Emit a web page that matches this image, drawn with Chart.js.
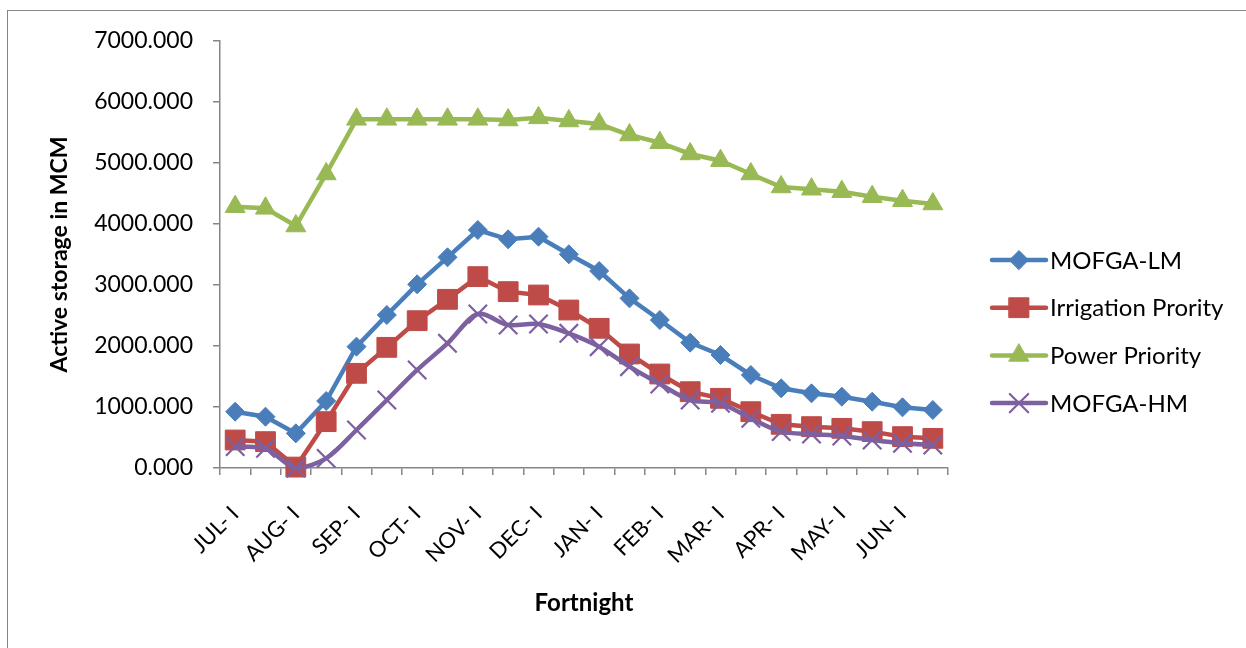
<!DOCTYPE html>
<html>
<head>
<meta charset="utf-8">
<script src="https://cdn.jsdelivr.net/npm/chart.js@4.4.1/dist/chart.umd.min.js"></script>
<style>
  html, body { margin: 0; padding: 0; background: #fff; overflow: hidden; }
  #wrap { position: relative; width: 1246px; height: 648px; overflow: hidden; }
  #frame { position: absolute; left: 7px; top: 10px; width: 1270px; height: 680px;
           border: 1.5px solid #868686; box-sizing: border-box; }
  canvas { position: absolute; left: 0; top: 0; }
</style>
</head>
<body>
<div id="wrap">
  <div id="frame"></div>
  <canvas id="c" width="1246" height="648"></canvas>
</div>
<script>
// Fortnights of the water year, July to June
const fortnights = [
  'JUL- I', 'JUL- II', 'AUG- I', 'AUG- II', 'SEP- I', 'SEP- II',
  'OCT- I', 'OCT- II', 'NOV- I', 'NOV- II', 'DEC- I', 'DEC- II',
  'JAN- I', 'JAN- II', 'FEB- I', 'FEB- II', 'MAR- I', 'MAR- II',
  'APR- I', 'APR- II', 'MAY- I', 'MAY- II', 'JUN- I', 'JUN- II'
];

// Active storage (MCM) at the end of each fortnight
const mofgaLM = [923, 841, 568, 1098, 1989, 2508, 3011, 3454, 3902, 3749, 3792, 3503,
                 3230, 2781, 2426, 2055, 1852, 1525, 1306, 1224, 1169, 1087, 995, 951];
const irrigationPriority = [459, 432, 15, 760, 1552, 1978, 2415, 2765, 3137, 2891, 2836, 2590,
                            2290, 1869, 1541, 1251, 1142, 923, 716, 678, 650, 596, 514, 486];
const powerPriority = [4284, 4257, 3967, 4820, 5716, 5716, 5716, 5716, 5716, 5705, 5740, 5689,
                       5639, 5459, 5333, 5148, 5038, 4820, 4607, 4570, 4530, 4448, 4382, 4328];
const mofgaHM = [350, 322, 0, 158, 623, 1115, 1607, 2044, 2525, 2344, 2361, 2208,
                 1989, 1661, 1377, 1115, 1060, 814, 596, 557, 525, 459, 405, 377];

const yTicks = { min: 0, max: 7000, step: 1000 };

const FONT = 'Lato, "Open Sans", sans-serif';
const AXIS_GREY = '#868686';

function series(label, data, color, style, radius, extra) {
  return Object.assign({
    label, data,
    borderColor: color,
    backgroundColor: color,
    pointBackgroundColor: color,
    pointBorderColor: color,
    borderWidth: 4.5,
    pointStyle: style,
    pointRadius: radius,
    pointBorderWidth: 1,
    tension: 0,
    clip: false
  }, extra || {});
}

const datasets = [
  series('MOFGA-LM', mofgaLM, '#4A7EBB', 'rectRot', 9.5, { order: 4 }),
  series('Irrigation Prority', irrigationPriority, '#BE4B48', 'rect', 14, { order: 3 }),
  series('Power Priority', powerPriority, '#98B954', 'triangle', 11.5, { order: 2 }),
  series('MOFGA-HM', mofgaHM, '#7D60A0', 'crossRot', 13, { order: 1, pointBorderWidth: 2.2, tension: 0.3 })
];

// Legend on the right: a short line with the series marker in its middle
const sideLegend = {
  id: 'sideLegend',
  afterDraw(chart) {
    const ctx = chart.ctx;
    const area = chart.chartArea;
    const x0 = area.right + 44;
    const lineLen = 54;
    chart.data.datasets.forEach((ds, i) => {
      const y = area.top + 219 + i * 47.7;
      ctx.save();
      ctx.strokeStyle = ds.borderColor;
      ctx.fillStyle = ds.backgroundColor;
      ctx.lineWidth = ds.borderWidth;
      ctx.lineCap = 'round';
      ctx.beginPath();
      ctx.moveTo(x0, y);
      ctx.lineTo(x0 + lineLen, y);
      ctx.stroke();
      ctx.lineWidth = ds.pointBorderWidth;
      Chart.helpers.drawPoint(ctx, {
        pointStyle: ds.pointStyle,
        radius: ds.pointRadius,
        rotation: 0,
        borderWidth: ds.pointBorderWidth
      }, x0 + lineLen / 2, y);
      ctx.fillStyle = '#000';
      ctx.font = '24px ' + FONT;
      ctx.textBaseline = 'middle';
      ctx.textAlign = 'left';
      ctx.fillText(ds.label, x0 + lineLen + 4, y + 1);
      ctx.restore();
    });
  }
};

new Chart(document.getElementById('c'), {
  type: 'line',
  data: { labels: fortnights, datasets },
  options: {
    responsive: false,
    animation: false,
    events: [],
    layout: { padding: { left: 0, top: 41, right: 298, bottom: 0 } },
    plugins: { legend: { display: false }, tooltip: { enabled: false } },
    scales: {
      x: {
        offset: true,
        grid: { offset: true, drawOnChartArea: false, drawTicks: true, tickLength: 7,
                color: AXIS_GREY, lineWidth: 1.5 },
        border: { color: AXIS_GREY, width: 1.5 },
        ticks: {
          autoSkip: false, minRotation: 45, maxRotation: 45, padding: 26,
          color: '#000', font: { family: FONT, size: 22 },
          callback: (v, i) => (i % 2 === 0 ? fortnights[i] : '')
        },
        title: {
          display: true, text: 'Fortnight', color: '#000',
          font: { family: FONT, size: 24, weight: 'bold' },
          padding: { top: 0, bottom: 30 }
        },
        afterFit: (s) => { s.height = 180; }
      },
      y: {
        min: yTicks.min, max: yTicks.max,
        grid: { drawOnChartArea: false, drawTicks: true, tickLength: 7,
                color: AXIS_GREY, lineWidth: 1.5 },
        border: { color: AXIS_GREY, width: 1.5 },
        ticks: {
          stepSize: yTicks.step, padding: 20, color: '#000',
          font: { family: FONT, size: 23 },
          callback: (v) => Number(v).toFixed(3)
        },
        title: {
          display: true, text: 'Active storage in MCM', color: '#000',
          font: { family: FONT, size: 23, weight: 'bold' },
          padding: { top: 46, bottom: 0 }
        },
        afterFit: (s) => { s.width = 220; }
      }
    }
  },
  plugins: [sideLegend]
});
</script>
</body>
</html>
